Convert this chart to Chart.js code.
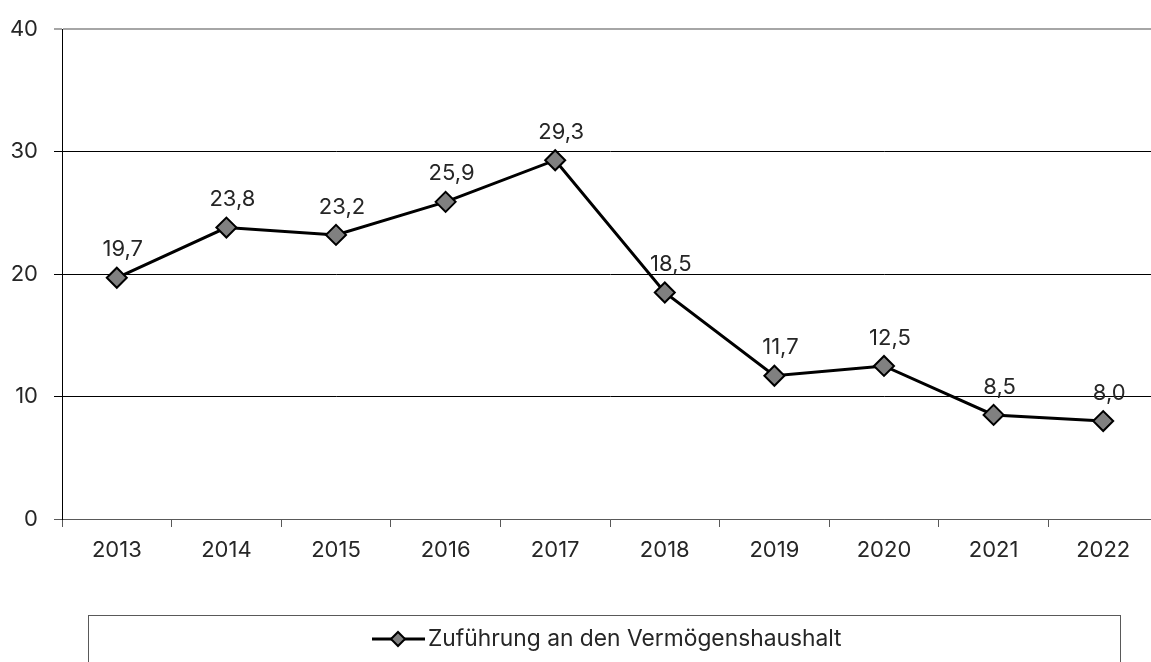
<!DOCTYPE html>
<html>
<head>
<meta charset="utf-8">
<script src="https://cdn.jsdelivr.net/npm/chart.js@4.4.0/dist/chart.umd.min.js"></script>
<style>
  html, body { margin: 0; padding: 0; background: #fff; overflow: hidden; }
  #wrap { width: 1151px; height: 662px; overflow: hidden; }
</style>
</head>
<body>
<div id="wrap"><canvas id="chart" width="1170" height="662"></canvas></div>
<script>
const years = ["2013", "2014", "2015", "2016", "2017", "2018", "2019", "2020", "2021", "2022"];
const values = [19.7, 23.8, 23.2, 25.9, 29.3, 18.5, 11.7, 12.5, 8.5, 8.0];
const seriesName = "Zuführung an den Vermögenshaushalt";
const yTicks = [0, 10, 20, 30, 40];

const FONT = "Inter, Roboto, sans-serif";
const TEXT = "#262626";

// value labels above each point
const valueLabels = {
    id: "valueLabels",
    afterDatasetsDraw(chart) {
        const ctx = chart.ctx;
        const meta = chart.getDatasetMeta(0);
        ctx.save();
        ctx.font = "22px " + FONT;
        ctx.fillStyle = TEXT;
        ctx.textAlign = "center";
        ctx.textBaseline = "middle";
        meta.data.forEach((pt, i) => {
            ctx.fillText(values[i].toFixed(1).replace(".", ","), pt.x + 6, pt.y - 28);
        });
        ctx.restore();
    }
};

// framed legend below the chart
const boxLegend = {
    id: "boxLegend",
    afterDraw(chart) {
        const ctx = chart.ctx;
        const ds = chart.data.datasets[0];
        ctx.save();
        ctx.strokeStyle = "#595959";
        ctx.lineWidth = 1;
        ctx.strokeRect(88.5, 615.5, 1032, 80);
        const y = 639;
        ctx.strokeStyle = "#000";
        ctx.lineWidth = 3;
        ctx.beginPath();
        ctx.moveTo(372, y);
        ctx.lineTo(425, y);
        ctx.stroke();
        ctx.fillStyle = ds.pointBackgroundColor;
        ctx.strokeStyle = ds.pointBorderColor;
        ctx.lineWidth = 2;
        Chart.helpers.drawPoint(ctx, { pointStyle: "rectRot", radius: 7, borderWidth: 2 }, 398, y);
        ctx.font = "22.8px " + FONT;
        ctx.fillStyle = TEXT;
        ctx.textAlign = "left";
        ctx.textBaseline = "middle";
        ctx.fillText(ds.label, 428, y);
        ctx.restore();
    }
};

new Chart(document.getElementById("chart"), {
    type: "line",
    data: {
        labels: years,
        datasets: [{
            label: seriesName,
            data: values,
            borderColor: "#000",
            borderWidth: 3,
            pointStyle: "rectRot",
            pointRadius: 10,
            pointHoverRadius: 10,
            pointBackgroundColor: "#808080",
            pointBorderColor: "#000",
            pointBorderWidth: 2,
            tension: 0
        }]
    },
    options: {
        responsive: false,
        animation: false,
        layout: { padding: { top: 26, right: 8, bottom: 103, left: 0 } },
        plugins: { legend: { display: false }, tooltip: { enabled: false } },
        scales: {
            x: {
                offset: true,
                afterFit: s => { s.height = 40; },
                grid: {
                    offset: true,
                    drawOnChartArea: false,
                    tickLength: 8,
                    color: "#595959",
                    lineWidth: 1
                },
                border: { color: "#595959", width: 1 },
                ticks: { color: TEXT, font: { family: FONT, size: 22 }, padding: 10, maxRotation: 0 }
            },
            y: {
                min: 0,
                max: 40,
                afterFit: s => { s.width = 62; },
                afterBuildTicks: s => { s.ticks = yTicks.map(v => ({ value: v })); },
                grid: {
                    tickLength: 8,
                    color: c => c.tick.value === 40 ? "#a6a6a6" : (c.tick.value === 0 ? "#595959" : "#000"),
                    lineWidth: c => c.tick.value === 40 ? 2 : 1
                },
                border: { color: "#000", width: 1 },
                ticks: { color: TEXT, font: { family: FONT, size: 22 }, padding: 16 }
            }
        }
    },
    plugins: [valueLabels, boxLegend]
});
</script>
</body>
</html>
